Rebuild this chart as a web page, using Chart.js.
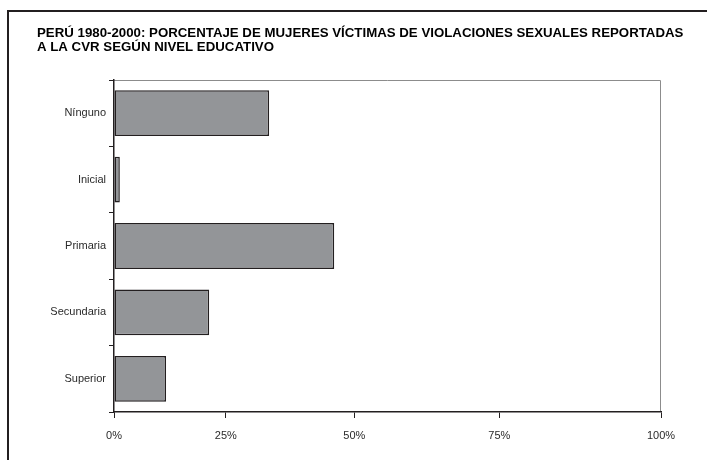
<!DOCTYPE html>
<html>
<head>
<meta charset="utf-8">
<script src="https://cdn.jsdelivr.net/npm/chart.js@4/dist/chart.umd.min.js"></script>
<style>
  body { margin: 0; background: #fff; }
  canvas { display: block; }
</style>
</head>
<body>
<canvas id="grafico" width="707" height="460"></canvas>
<script>
// Datos
const niveles = ['Nínguno', 'Inicial', 'Primaria', 'Secundaria', 'Superior'];
const porcentajes = [33.8, 1.4, 46.3, 21.5, 12.1];
const ticksX = [0, 25, 50, 75, 100];
const titulo = [
    'PERÚ 1980-2000: PORCENTAJE DE MUJERES VÍCTIMAS DE VIOLACIONES SEXUALES REPORTADAS',
    'A LA CVR SEGÚN NIVEL EDUCATIVO'
];

const fuente = "'Liberation Sans', Arial, sans-serif";
const tinta = '#231f20';

// Escala del original: el eje no es lineal, las marcas se separan hacia la derecha
const CURVA = 0.757;
class EscalaCurva extends Chart.LinearScale {
    getPixelForValue(value) {
        const t = (value - this.min) / (this.max - this.min);
        return this.getPixelForDecimal(CURVA * t + (1 - CURVA) * t * t);
    }
    getValueForPixel(pixel) {
        const f = this.getDecimalForPixel(pixel);
        const b = 1 - CURVA;
        const t = (-CURVA + Math.sqrt(CURVA * CURVA + 4 * b * f)) / (2 * b);
        return this.min + t * (this.max - this.min);
    }
}
EscalaCurva.id = 'curva';
EscalaCurva.defaults = Chart.LinearScale.defaults;
Chart.register(EscalaCurva);

// Marco exterior, título y borde del área del gráfico
const marcos = {
    id: 'marcos',
    beforeDraw(chart) {
        const ctx = chart.ctx;
        ctx.save();
        ctx.strokeStyle = tinta;
        ctx.lineWidth = 2;
        ctx.beginPath();
        ctx.moveTo(8, 460);
        ctx.lineTo(8, 11);
        ctx.lineTo(707, 11);
        ctx.stroke();

        // título un poco ensanchado, como en el original
        ctx.save();
        ctx.translate(37, 0);
        ctx.scale(1.02, 1);
        ctx.fillStyle = '#000';
        ctx.font = 'bold 13px ' + fuente;
        ctx.textBaseline = 'alphabetic';
        ctx.fillText(titulo[0], 0, 37);
        ctx.fillText(titulo[1], 0, 51);
        ctx.restore();

        const a = chart.chartArea;
        ctx.strokeStyle = '#8c8c8c';
        ctx.lineWidth = 1;
        ctx.beginPath();
        ctx.moveTo(a.left, a.top + 0.5);
        ctx.lineTo(a.right - 0.5, a.top + 0.5);
        ctx.lineTo(a.right - 0.5, a.bottom);
        ctx.stroke();
        ctx.restore();
    }
};

new Chart(document.getElementById('grafico'), {
    type: 'bar',
    data: {
        labels: niveles,
        datasets: [{
            data: porcentajes,
            backgroundColor: '#939598',
            borderColor: tinta,
            borderWidth: 1.5,
            borderSkipped: false,
            categoryPercentage: 1,
            barPercentage: 0.69
        }]
    },
    options: {
        indexAxis: 'y',
        responsive: false,
        animation: false,
        layout: { padding: { left: 37, right: 46, top: 80, bottom: 0 } },
        plugins: {
            legend: { display: false },
            tooltip: { enabled: false },
            title: { display: false }
        },
        scales: {
            x: {
                type: 'curva',
                min: 0,
                max: 100,
                afterBuildTicks(scale) {
                    scale.ticks = ticksX.map(v => ({ value: v }));
                },
                afterFit(scale) { scale.height = 48; },
                border: { color: tinta, width: 1.5 },
                grid: { drawOnChartArea: false, tickLength: 6, color: tinta },
                ticks: {
                    color: '#2a2a2a',
                    padding: 11,
                    maxRotation: 0,
                    font: { family: fuente, size: 11 },
                    callback: v => v + '%'
                }
            },
            y: {
                afterFit(scale) { scale.width = 77; },
                border: { color: tinta, width: 1.5 },
                grid: { offset: true, drawOnChartArea: false, tickLength: 5, color: tinta },
                ticks: {
                    color: '#2a2a2a',
                    padding: 3,
                    font: { family: fuente, size: 11 }
                }
            }
        }
    },
    plugins: [marcos]
});
</script>
</body>
</html>
